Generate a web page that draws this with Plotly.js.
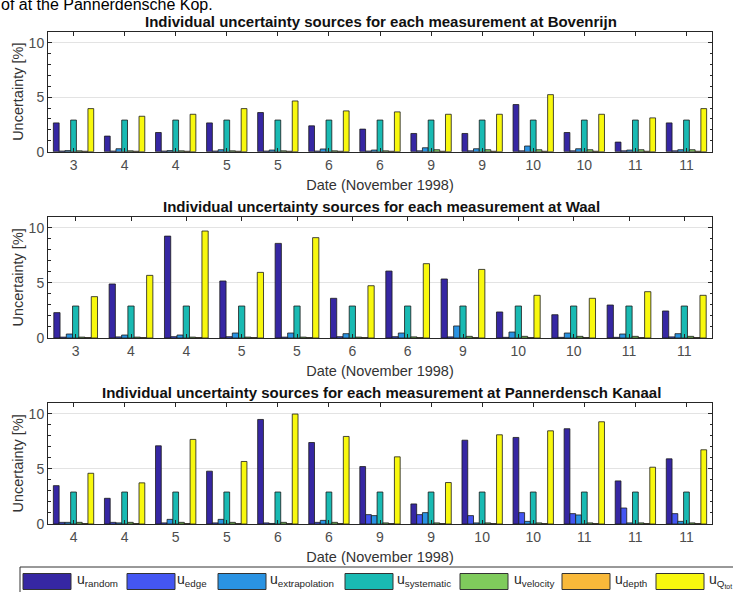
<!DOCTYPE html>
<html>
<head>
<meta charset="utf-8">
<script src="https://cdn.plot.ly/plotly-3.0.1.min.js"></script>
<style>html,body{margin:0;padding:0;background:#fff;}#chart{width:733px;height:592px;}</style>
</head>
<body>
<div id="chart"></div>
<script>
// ---------- data ----------
const seriesNames = ['random', 'edge', 'extrapolation', 'systematic', 'velocity', 'depth', 'Q_tot'];
const seriesLabels = ['u<sub>random</sub>', 'u<sub>edge</sub>', 'u<sub>extrapolation</sub>', 'u<sub>systematic</sub>', 'u<sub>velocity</sub>', 'u<sub>depth</sub>', 'u<sub>Q<sub>tot</sub></sub>'];

const panelTitles = [
  'Individual uncertainty sources for each measurement at Bovenrijn',
  'Individual uncertainty sources for each measurement at Waal',
  'Individual uncertainty sources for each measurement at Pannerdensch Kanaal'
];

const bovenDates   = ['3','4','4','5','5','6','6','9','9','10','10','11','11'];
const bovenRandom  = [2.64,1.43,1.76,2.64,3.59,2.37,2.07,1.67,1.67,4.32,1.76,0.88,2.64];
const bovenEdge    = [0.06,0.06,0.06,0.06,0.06,0.06,0.06,0.08,0.08,0.08,0.08,0.08,0.08];
const bovenExtrap  = [0.10,0.27,0.10,0.18,0.15,0.25,0.15,0.36,0.27,0.52,0.27,0.15,0.18];
const bovenSyst    = [2.9,2.9,2.9,2.9,2.9,2.9,2.9,2.9,2.9,2.9,2.9,2.9,2.9];
const bovenVel     = [0.08,0.08,0.08,0.08,0.08,0.08,0.08,0.18,0.18,0.18,0.18,0.18,0.18];
const bovenDepth   = [0.04,0.04,0.04,0.04,0.04,0.04,0.04,0.04,0.04,0.04,0.04,0.04,0.04];
const bovenQ       = [3.95,3.25,3.43,3.95,4.65,3.74,3.65,3.43,3.43,5.23,3.43,3.10,3.95];

const waalDates    = ['3','4','4','5','5','6','6','9','10','10','11','11'];
const waalRandom   = [2.30,4.90,9.24,5.17,8.58,3.60,6.07,5.35,2.36,2.11,2.99,2.45];
const waalEdge     = [0.08,0.10,0.12,0.12,0.08,0.12,0.12,0.10,0.06,0.06,0.06,0.10];
const waalExtrap   = [0.36,0.27,0.27,0.45,0.45,0.39,0.45,1.09,0.54,0.45,0.36,0.39];
const waalSyst     = [2.9,2.9,2.9,2.9,2.9,2.9,2.9,2.9,2.9,2.9,2.9,2.9];
const waalVel      = [0.08,0.08,0.08,0.08,0.08,0.08,0.10,0.15,0.15,0.15,0.15,0.15];
const waalDepth    = [0.04,0.04,0.04,0.04,0.04,0.04,0.04,0.04,0.04,0.04,0.04,0.04];
const waalQ        = [3.75,5.68,9.70,5.95,9.10,4.74,6.74,6.22,3.87,3.60,4.20,3.87];

const pkDates      = ['4','4','5','5','6','6','9','9','10','10','11','11','11'];
const pkRandom     = [3.48,2.33,7.09,4.79,9.48,7.39,5.21,1.82,7.60,7.85,8.64,3.91,5.91];
const pkEdge       = [0.15,0.15,0.10,0.10,0.10,0.15,0.85,0.85,0.76,1.03,0.94,1.45,0.94];
const pkExtrap     = [0.15,0.10,0.42,0.42,0.05,0.33,0.76,1.03,0.10,0.24,0.82,0.10,0.24];
const pkSyst       = [2.9,2.9,2.9,2.9,2.9,2.9,2.9,2.9,2.9,2.9,2.9,2.9,2.9];
const pkVel        = [0.15,0.15,0.15,0.15,0.15,0.15,0.10,0.10,0.10,0.10,0.10,0.10,0.10];
const pkDepth      = [0.04,0.04,0.04,0.04,0.04,0.04,0.04,0.04,0.04,0.04,0.04,0.04,0.04];
const pkQ          = [4.60,3.73,7.67,5.67,9.97,7.94,6.09,3.76,8.09,8.45,9.27,5.15,6.73];

const yTickVals = [0, 5, 10];
const xTitle = 'Date (November 1998)';
const yTitle = 'Uncertainty [%]';

// ---------- styling ----------
const colors = ['#3627a3', '#4456f2', '#2a93e3', '#19bab3', '#7fcb5c', '#f9b93a', '#f8f80e'];
const W = 733, H = 592;
const panels = [
  {dates: bovenDates, series: [bovenRandom, bovenEdge, bovenExtrap, bovenSyst, bovenVel, bovenDepth, bovenQ], top: 31.7, bottom: 151.7},
  {dates: waalDates,  series: [waalRandom, waalEdge, waalExtrap, waalSyst, waalVel, waalDepth, waalQ],       top: 216.7, bottom: 338},
  {dates: pkDates,    series: [pkRandom, pkEdge, pkExtrap, pkSyst, pkVel, pkDepth, pkQ],                     top: 402.7, bottom: 524}
];
const xDom = [48 / W, 712 / W];
const axisColor = '#262626';
const fontFam = 'Liberation Sans, Arial, sans-serif';

const traces = [];
const layout = {
  width: W, height: H,
  margin: {l: 0, r: 0, t: 0, b: 0},
  paper_bgcolor: '#ffffff', plot_bgcolor: '#ffffff',
  barmode: 'group', bargap: 0.21, bargroupgap: 0,
  showlegend: false,
  font: {family: fontFam, color: axisColor},
  annotations: [], shapes: []
};

panels.forEach((p, pi) => {
  const sfx = pi === 0 ? '' : String(pi + 1);
  const xs = p.dates.map((d, i) => i);
  p.series.forEach((vals, si) => {
    traces.push({
      type: 'bar', x: xs, y: vals, name: seriesNames[si],
      xaxis: 'x' + sfx, yaxis: 'y' + sfx,
      marker: {color: colors[si], line: {color: '#1a1a1a', width: 0.8}},
      hoverinfo: 'y+name'
    });
  });
  const yDom = [1 - p.bottom / H, 1 - p.top / H];
  layout['xaxis' + sfx] = {
    domain: xDom, anchor: 'y' + sfx, range: [-0.5, p.dates.length - 0.5],
    tickmode: 'array', tickvals: xs, ticktext: p.dates,
    ticks: 'inside', ticklen: 4, tickcolor: axisColor, tickwidth: 1,
    showline: true, linecolor: axisColor, linewidth: 1, mirror: 'ticks',
    showgrid: false, zeroline: false,
    tickfont: {size: 14, color: '#4d4d4d', family: fontFam},
    title: {text: xTitle, font: {size: 14.5, color: '#333333', family: fontFam}, standoff: 8},
    automargin: false, fixedrange: true
  };
  layout['yaxis' + sfx] = {
    domain: yDom, anchor: 'x' + sfx, range: [0, 11],
    tickmode: 'array', tickvals: yTickVals,
    ticks: 'inside', ticklen: 4, tickcolor: axisColor, tickwidth: 1,
    minor: {dtick: 1, ticks: 'inside', ticklen: 2.5, tickcolor: axisColor, showgrid: false},
    showline: true, linecolor: axisColor, linewidth: 1, mirror: 'ticks',
    showgrid: true, gridcolor: '#e3e3e3', gridwidth: 1, zeroline: false,
    tickfont: {size: 14, color: '#4d4d4d', family: fontFam},
    title: {text: yTitle, font: {size: 14.5, color: '#333333', family: fontFam}, standoff: 1},
    automargin: false, fixedrange: true
  };
  layout.annotations.push({
    text: '<b>' + panelTitles[pi] + '</b>', xref: 'paper', yref: 'paper',
    x: 381 / W, y: 1 - (p.top - 10) / H, xanchor: 'center', yanchor: 'middle',
    showarrow: false, font: {size: 15, color: '#111111', family: fontFam}
  });
});

// header text cut from the surrounding page
layout.annotations.push({
  text: 'of at the Pannerdensche Kop.', xref: 'paper', yref: 'paper',
  x: -0.002, y: 1 - 15 / H, xanchor: 'left', yanchor: 'bottom',
  showarrow: false, font: {size: 16, color: '#000000', family: fontFam}
});

// legend box (drawn across the bottom, clipped by the page)
layout.shapes.push({type: 'rect', xref: 'paper', yref: 'paper',
  x0: 20 / W, x1: 1.02, y0: -0.05, y1: 1 - 567 / H,
  line: {color: '#333333', width: 1}, fillcolor: '#ffffff', layer: 'above'});
const swatchX = [23, 127, 218, 345, 460, 562, 656];
const labelX  = [75, 175, 268, 395, 512, 613, 707];
seriesLabels.forEach((lab, i) => {
  layout.shapes.push({type: 'rect', xref: 'paper', yref: 'paper',
    x0: swatchX[i] / W, x1: (swatchX[i] + 48) / W,
    y0: 1 - 589.5 / H, y1: 1 - 573.5 / H,
    line: {color: '#333333', width: 1}, fillcolor: colors[i], layer: 'above'});
  layout.annotations.push({text: lab, xref: 'paper', yref: 'paper',
    x: labelX[i] / W, y: 1 - 580 / H, xanchor: 'left', yanchor: 'middle',
    showarrow: false, font: {size: 14, color: '#262626', family: fontFam}});
});

Plotly.newPlot('chart', traces, layout, {displayModeBar: false, staticPlot: true});
</script>
</body>
</html>
